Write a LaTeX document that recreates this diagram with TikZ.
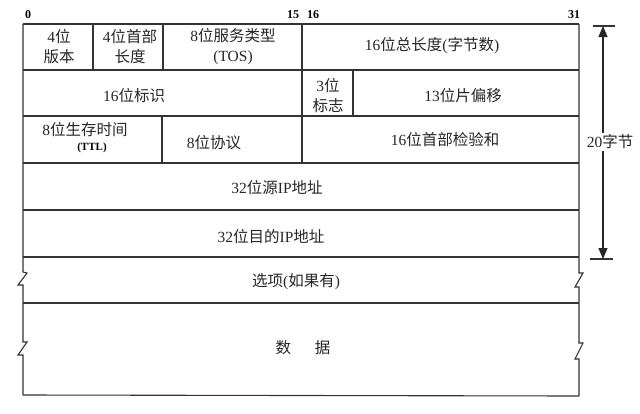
\documentclass[tikz,border=0pt]{standalone}
\usepackage{fontspec}
\setmainfont{Liberation Serif}
\newfontfamily\cjk{Noto Sans CJK SC}
\newcommand\zh[1]{{\cjk #1}}
\usetikzlibrary{arrows.meta}
\begin{document}
\begin{tikzpicture}[x=1pt,y=-1pt,
  ln/.style={draw=black!80,line width=1.1pt},
  txt/.style={inner sep=0pt,align=center,font=\fontsize{15.5}{20}\selectfont,text=black!85},
  bit/.style={inner sep=0pt,font=\fontsize{12}{13}\selectfont\bfseries},
  ttl/.style={inner sep=0pt,font=\fontsize{11}{12}\selectfont\bfseries}]
\useasboundingbox (0,0) rectangle (640,413);
% frame with zigzags
\draw[ln] (23,24) -- (23,272) -- (27,273) -- (18,285) -- (23,285) -- (23,342) -- (27,342) -- (18,355) -- (23,355) -- (23,395);
\draw[ln] (579,24) -- (579,273) -- (583,273) -- (575,287) -- (579,287) -- (579,343) -- (583,343) -- (575,359) -- (579,359) -- (579,396);
\foreach \y in {24,70,116,163,210,257,303} \draw[ln] (23,\y) -- (579,\y);
\draw[ln] (23,395) -- (579,396);
\draw[ln] (93,24) -- (93,70);
\draw[ln] (163,24) -- (163,70);
\draw[ln] (302,24) -- (302,163);
\draw[ln] (353,70) -- (353,116);
\draw[ln] (162,116) -- (162,163);
% bit numbers
\node[bit] (b0) at (28,15) {0};
\node[bit] (b15) at (293,15) {15};
\node[bit] (b16) at (313,15) {16};
\node[bit] (b31) at (574,15) {31};
% texts
\node[txt] (ver) at (59,47) {4\zh{位}\\\zh{版本}};
\node[txt] (ihl) at (130,47) {4\zh{位首部}\\\zh{长度}};
\node[txt] (tos) at (233,47) {8\zh{位服务类型}\\(TOS)};
\node[txt] (len) at (432,46) {16\zh{位总长度}(\zh{字节数})};
\node[txt] (id) at (134,96) {16\zh{位标识}};
\node[txt] (flg) at (328,96) {3\zh{位}\\\zh{标志}};
\node[txt] (off) at (463,96) {13\zh{位片偏移}};
\node[txt] (ttlt) at (85,130) {8\zh{位生存时间}};
\node[ttl] (ttl) at (92,148) {(TTL)};
\node[txt] (pro) at (214,143) {8\zh{位协议}};
\node[txt] (chk) at (445,140) {16\zh{位首部检验和}};
\node[txt] (src) at (277,188) {32\zh{位源}IP\zh{地址}};
\node[txt] (dst) at (271,237) {32\zh{位目的}IP\zh{地址}};
\node[txt] (opt) at (296,282) {\zh{选项}(\zh{如果有})};
\node[txt] (dat) at (303,348) {\zh{数}\hspace{24pt}\zh{据}};
% 20 bytes arrow
\coordinate (at) at (603,26);
\coordinate (ab) at (603,259);
\draw[ln] (593,26) -- (615,26);
\draw[ln] (590,259) -- (613,259);
\draw[line width=1.1pt,draw=black!85,{Triangle[length=11pt,width=9pt]}-{Triangle[length=11pt,width=9pt]}] (at) -- (ab);
\node[txt,fill=white,inner sep=1.5pt] (twenty) at (610,142) {20\zh{字节}};
\end{tikzpicture}
\end{document}
